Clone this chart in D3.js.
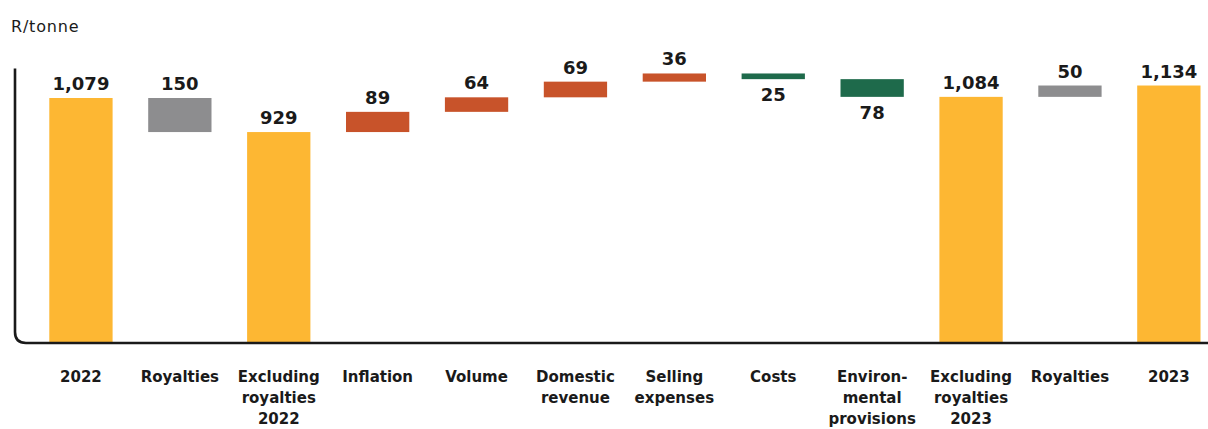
<!DOCTYPE html>
<html>
<head>
<meta charset="utf-8">
<script src="https://cdn.jsdelivr.net/npm/d3@7"></script>
<style>
  html, body { margin: 0; padding: 0; background: #fff; }
  svg { display: block; }
  text { font-family: "DejaVu Sans", sans-serif; fill: #1a1a1a; }
</style>
</head>
<body>
<svg id="chart" width="1208" height="429"></svg>
<script>
const categories = [
  ["2022"],
  ["Royalties"],
  ["Excluding", "royalties", "2022"],
  ["Inflation"],
  ["Volume"],
  ["Domestic", "revenue"],
  ["Selling", "expenses"],
  ["Costs"],
  ["Environ-", "mental", "provisions"],
  ["Excluding", "royalties", "2023"],
  ["Royalties"],
  ["2023"]
];
const changes = [1079, -150, 929, 89, 64, 69, 36, -25, -78, 1084, 50, 1134];
const kinds = ["total", "royalty", "total", "increase", "increase", "increase", "increase",
               "decrease", "decrease", "total", "royalty", "total"];
const labels = ["1,079", "150", "929", "89", "64", "69", "36", "25", "78", "1,084", "50", "1,134"];
const unitLabel = "R/tonne";

const colors = { total: "#FDB733", royalty: "#8D8D8F", increase: "#C8532A", decrease: "#1E6A4B" };

const svg = d3.select("#chart");
const W = 1208, H = 429;
const baseY = 343;
const pxPerUnit = 245 / 1079;

const y = d3.scaleLinear().domain([0, 1200]).range([baseY, baseY - 1200 * pxPerUnit]);
const keys = categories.map((c, i) => "c" + i);
const x = d3.scaleBand().domain(keys).range([31.5, 1218.3]).paddingInner(0.36).paddingOuter(0.18);

// compute waterfall extents
let running = 0;
const bars = changes.map((v, i) => {
  let lo, hi;
  if (kinds[i] === "total") { lo = 0; hi = v; running = v; }
  else { const s = running; running = running + v; lo = Math.min(s, running); hi = Math.max(s, running); }
  return { key: keys[i], lo, hi, kind: kinds[i], label: labels[i], cat: categories[i] };
});

// bars
svg.append("g").selectAll("rect").data(bars).join("rect")
  .attr("x", d => x(d.key))
  .attr("width", x.bandwidth())
  .attr("y", d => y(d.hi))
  .attr("height", d => y(d.lo) - y(d.hi))
  .attr("fill", d => colors[d.kind]);

// value labels
svg.append("g").selectAll("text").data(bars).join("text")
  .attr("x", d => x(d.key) + x.bandwidth() / 2)
  .attr("y", d => d.kind === "decrease" ? y(d.lo) + 22 : y(d.hi) - 8)
  .attr("text-anchor", "middle")
  .attr("font-size", 18)
  .attr("font-weight", "bold")
  .text(d => d.label);

// axis line with rounded corner
const axX = 15, topY = y(1200) - 2, r = 11;
svg.append("path")
  .attr("d", `M${axX},${topY} V${baseY - r} Q${axX},${baseY} ${axX + r},${baseY} H${W}`)
  .attr("fill", "none")
  .attr("stroke", "#1a1a1a")
  .attr("stroke-width", 2.6);

// category labels
const catG = svg.append("g");
bars.forEach(d => {
  const t = catG.append("text")
    .attr("x", x(d.key) + x.bandwidth() / 2)
    .attr("y", 382)
    .attr("text-anchor", "middle")
    .attr("font-size", 15)
    .attr("font-weight", "bold");
  d.cat.forEach((line, j) => {
    t.append("tspan").attr("x", x(d.key) + x.bandwidth() / 2).attr("dy", j === 0 ? 0 : 21).text(line);
  });
});

// unit label
svg.append("text")
  .attr("x", 11)
  .attr("y", 32)
  .attr("font-size", 16)
  .attr("letter-spacing", 0.8)
  .text(unitLabel);
</script>
</body>
</html>
